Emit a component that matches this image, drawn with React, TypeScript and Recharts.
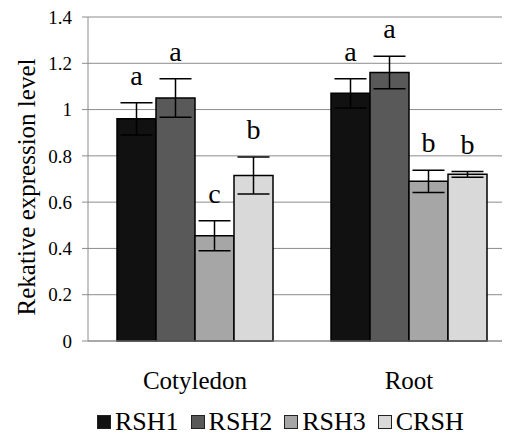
import { BarChart, Bar, XAxis, YAxis, CartesianGrid, ErrorBar, LabelList } from 'recharts';

const categories = ['Cotyledon', 'Root'];
const seriesNames = ['RSH1', 'RSH2', 'RSH3', 'CRSH'];
const seriesColors = ['#111111', '#595959', '#a6a6a6', '#d9d9d9'];

const rsh1 = [0.96, 1.07];
const rsh2 = [1.05, 1.16];
const rsh3 = [0.455, 0.69];
const crsh = [0.715, 0.72];

const rsh1Err = [0.07, 0.063];
const rsh2Err = [0.083, 0.07];
const rsh3Err = [0.065, 0.048];
const crshErr = [0.08, 0.012];

const rsh1Letters = ['a', 'a'];
const rsh2Letters = ['a', 'a'];
const rsh3Letters = ['c', 'b'];
const crshLetters = ['b', 'b'];

const yTicks = [0, 0.2, 0.4, 0.6, 0.8, 1, 1.2, 1.4];
const edgeTicks = [0, 1, 2];

const values = [rsh1, rsh2, rsh3, crsh];
const errors = [rsh1Err, rsh2Err, rsh3Err, crshErr];
const letters = [rsh1Letters, rsh2Letters, rsh3Letters, crshLetters];

const data = categories.map((name, i) => {
  const row: Record<string, string | number> = { name };
  seriesNames.forEach((s, k) => {
    row[`v${k}`] = values[k][i];
    row[`e${k}`] = errors[k][i];
    row[`l${k}`] = letters[k][i];
  });
  return row;
});

const FONT = '"Liberation Serif", "Times New Roman", serif';

// letter sits above the error bar top; pixel size of the error taken from the bar's own scale
const letterContent = (k: number) => (props: any) => {
  const { x, y, width, height, value, index } = props;
  const v = values[k][index];
  const perUnit = v ? height / v : 0;
  const top = y - errors[k][index] * perUnit;
  return (
    <text x={x + width / 2} y={top - 18} textAnchor="middle" fontSize={28} fontFamily={FONT} fill="#000">
      {value}
    </text>
  );
};

const Legend2 = () => (
  <div style={{ display: 'flex', alignItems: 'center', paddingLeft: 89, height: 28, fontFamily: FONT, fontSize: 26, lineHeight: '28px' }}>
    {seriesNames.map((s, k) => (
      <div key={s} style={{ display: 'flex', alignItems: 'center', marginRight: 12 }}>
        <span style={{ display: 'inline-block', width: 12, height: 12, background: seriesColors[k], border: '1.5px solid #222', marginRight: 4 }} />
        <span>{s}</span>
      </div>
    ))}
  </div>
);

export default function App() {
  return (
    <div style={{ width: 502, overflow: 'hidden', fontFamily: FONT }}>
      <BarChart
        width={502}
        height={400}
        data={data}
        margin={{ top: 9, right: -6, left: 0, bottom: 7 }}
        barCategoryGap={29}
        barGap={0}
      >
        <CartesianGrid xAxisId="cat" vertical={false} stroke="#8c8c8c" strokeWidth={1} />
        <XAxis
          xAxisId="edges"
          type="number"
          domain={[0, 2]}
          ticks={edgeTicks}
          height={0}
          tick={false}
          axisLine={false}
          tickLine={{ stroke: '#8c8c8c' }}
          tickSize={6}
        />
        <XAxis
          xAxisId="cat"
          dataKey="name"
          height={60}
          tickLine={false}
          axisLine={{ stroke: '#8c8c8c' }}
          tickSize={6}
          tickMargin={24}
          tick={{ fontSize: 25, fontFamily: FONT, fill: '#000' }}
        />
        <YAxis
          width={80}
          domain={[0, 1.4]}
          ticks={yTicks}
          interval={0}
          tickSize={6}
          tickMargin={10}
          axisLine={{ stroke: '#8c8c8c' }}
          tickLine={{ stroke: '#8c8c8c' }}
          tick={{ fontSize: 19, fontFamily: FONT, fill: '#000' }}
        />
        {seriesNames.map((s, k) => (
          <Bar
            key={s}
            xAxisId="cat"
            dataKey={`v${k}`}
            name={s}
            fill={seriesColors[k]}
            stroke="#000"
            strokeWidth={1.5}
            isAnimationActive={false}
          >
            <ErrorBar dataKey={`e${k}`} width={16} stroke="#000" strokeWidth={1.5} />
            <LabelList dataKey={`l${k}`} content={letterContent(k)} />
          </Bar>
        ))}
        <text
          x={18}
          y={179}
          transform="rotate(-90, 18, 179)"
          textAnchor="middle"
          dominantBaseline="central"
          fontSize={25}
          fontFamily={FONT}
          fill="#000"
        >
          Rekative expression level
        </text>
      </BarChart>
      <Legend2 />
    </div>
  );
}
